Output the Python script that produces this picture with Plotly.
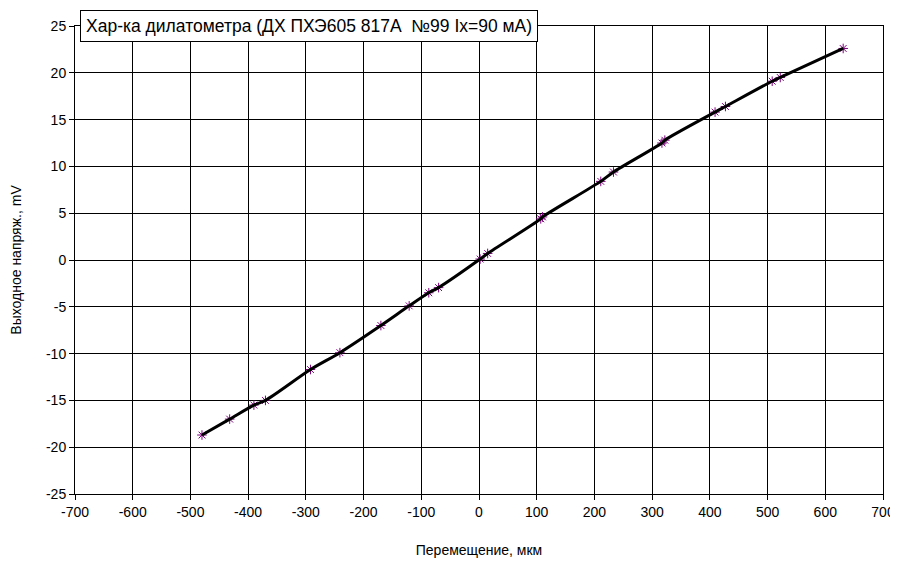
import plotly.graph_objects as go

# Перемещение, мкм
displacement = [-480, -432, -390, -370, -292, -241, -170, -121, -87, -70,
                2, 15, 107, 110, 211, 233, 317, 322, 409, 427, 508, 522, 631]
# Выходное напряжение, mV
voltage = [-18.7, -17.0, -15.5, -15.0, -11.7, -9.9, -7.0, -4.9, -3.5, -2.95,
           0.1, 0.7, 4.4, 4.6, 8.4, 9.4, 12.5, 12.8, 15.8, 16.4, 19.1, 19.5, 22.6]

x_ticks = list(range(-700, 701, 100))
y_ticks = list(range(-25, 26, 5))

title_text = 'Хар-ка дилатометра (ДХ ПХЭ605 817А  №99 Ix=90 мА)'

FONT = 'Liberation Sans, Arial, sans-serif'

fig = go.Figure()

# точки измерений
fig.add_trace(go.Scatter(
    x=displacement,
    y=voltage,
    mode='markers',
    marker=dict(symbol='asterisk-open', size=8, color='#800080',
                line=dict(color='#800080', width=1)),
    showlegend=False,
    hoverinfo='skip'
))

# линия тренда
fig.add_trace(go.Scatter(
    x=displacement,
    y=voltage,
    mode='lines',
    line=dict(color='black', width=3, shape='spline', smoothing=0.8),
    showlegend=False,
    hoverinfo='skip'
))

axis_common = dict(
    showgrid=True,
    gridcolor='black',
    gridwidth=1,
    showline=True,
    linecolor='black',
    linewidth=1,
    mirror=True,
    ticks='outside',
    ticklen=5,
    tickcolor='black',
    zeroline=False,
    ticklabeloverflow='allow',
)

# страница html имеет отступ 8px, поэтому фигура чуть меньше окна
fig.update_layout(
    width=890,
    height=553,
    margin=dict(l=67, r=15, t=18, b=67, autoexpand=False),
    paper_bgcolor='white',
    plot_bgcolor='white',
    font=dict(family=FONT, color='black'),
    xaxis=dict(
        range=[-700, 700],
        tickvals=x_ticks,
        ticktext=[str(v) for v in x_ticks],
        tickfont=dict(family=FONT, size=14, color='black'),
        title=dict(text='Перемещение, мкм', font=dict(family=FONT, size=14), standoff=26),
        **axis_common
    ),
    yaxis=dict(
        range=[-25, 25],
        tickvals=y_ticks,
        ticktext=[str(v) for v in y_ticks],
        tickfont=dict(family=FONT, size=14, color='black'),
        title=dict(text='Выходное напряж., mV', font=dict(family=FONT, size=14), standoff=24),
        **axis_common
    ),
    annotations=[dict(
        text=title_text,
        xref='paper', yref='paper',
        x=0.006, y=1.0,
        xanchor='left', yanchor='middle',
        showarrow=False,
        font=dict(family=FONT, size=17.5, color='black'),
        bgcolor='white',
        bordercolor='black',
        borderwidth=1,
        borderpad=5,
    )],
)

fig.write_html('out.html')
